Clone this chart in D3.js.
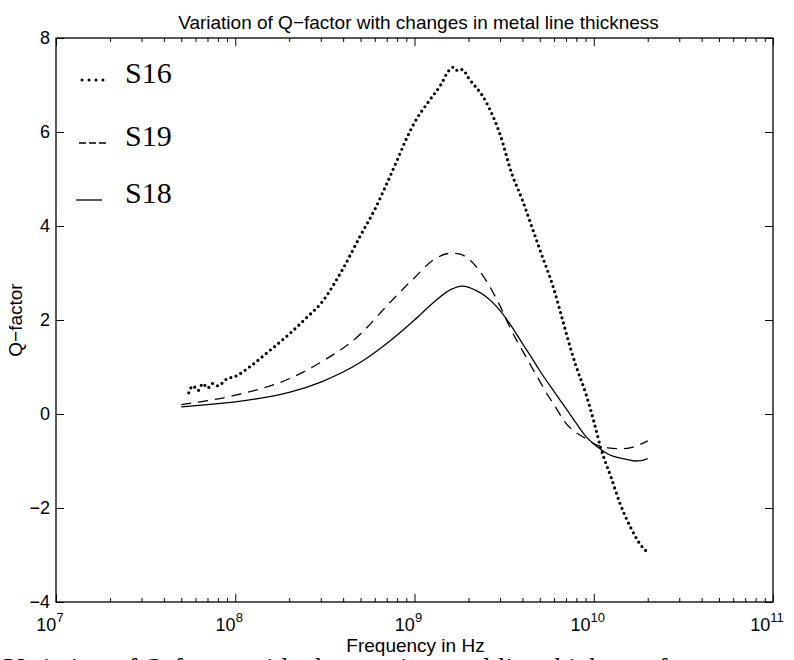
<!DOCTYPE html>
<html>
<head>
<meta charset="utf-8">
<script src="https://cdn.jsdelivr.net/npm/d3@7"></script>
<style>
  body { margin: 0; background: #fff; }
  text { fill: #000; }
</style>
</head>
<body>
<div id="chart"></div>
<script>
// S16 (dotted) - measured, noisy at low frequency
const freqS16 = [5.5e7, 5.8e7, 6.2e7, 6.6e7, 7e7, 7.5e7, 8e7, 9e7, 1e8, 1.2e8, 1.5e8, 2e8, 2.5e8, 3e8, 4e8, 5e8, 6e8, 7e8, 8e8, 9e8, 1e9, 1.2e9, 1.4e9, 1.55e9, 1.65e9, 1.75e9, 1.85e9, 2e9, 2.5e9, 3e9, 3.5e9, 4e9, 4.5e9, 5e9, 6e9, 6.7e9, 7.5e9, 8e9, 9e9, 1e10, 1.1e10, 1.25e10, 1.4e10, 1.6e10, 1.8e10, 2e10];
const qS16 = [0.45, 0.6, 0.5, 0.65, 0.55, 0.65, 0.6, 0.75, 0.8, 1.0, 1.3, 1.7, 2.05, 2.35, 3.1, 3.8, 4.35, 4.9, 5.4, 5.85, 6.2, 6.65, 7.0, 7.3, 7.38, 7.3, 7.33, 7.15, 6.65, 5.95, 5.1, 4.55, 4.0, 3.5, 2.65, 2.0, 1.34, 1.0, 0.45, -0.15, -0.75, -1.35, -1.9, -2.4, -2.75, -2.95];

// S19 (dashed)
const freqS19 = [5e7, 1e8, 2e8, 3e8, 5e8, 7e8, 1e9, 1.3e9, 1.6e9, 1.8e9, 2e9, 2.5e9, 3e9, 3.5e9, 4e9, 4.5e9, 5e9, 5.5e9, 6e9, 7e9, 8e9, 9e9, 1e10, 1.2e10, 1.4e10, 1.7e10, 2e10];
const qS19 = [0.2, 0.4, 0.75, 1.1, 1.7, 2.3, 2.9, 3.3, 3.42, 3.4, 3.3, 2.85, 2.3, 1.75, 1.35, 1.0, 0.7, 0.42, 0.2, -0.2, -0.4, -0.52, -0.63, -0.72, -0.74, -0.69, -0.57];

// S18 (solid)
const freqS18 = [5e7, 7e7, 1e8, 1.5e8, 2e8, 3e8, 5e8, 7e8, 1e9, 1.3e9, 1.6e9, 1.85e9, 2.2e9, 2.5e9, 3e9, 3.5e9, 4e9, 4.5e9, 5e9, 6e9, 7e9, 8e9, 9e9, 1.05e10, 1.2e10, 1.5e10, 1.7e10, 1.85e10, 2e10];
const qS18 = [0.15, 0.2, 0.26, 0.36, 0.46, 0.68, 1.1, 1.5, 2.0, 2.4, 2.65, 2.72, 2.63, 2.5, 2.2, 1.85, 1.5, 1.2, 0.92, 0.48, 0.12, -0.2, -0.47, -0.7, -0.85, -0.96, -1.0, -0.99, -0.95];

const xDecades = [1e7, 1e8, 1e9, 1e10, 1e11];
const yTicks = [-4, -2, 0, 2, 4, 6, 8];
const legendNames = ["S16", "S19", "S18"];

const width = 794, height = 660;
const margin = {top: 38, right: 21, bottom: 58, left: 56};

const svg = d3.select("#chart").append("svg")
    .attr("width", width)
    .attr("height", height);

const x = d3.scaleLog().domain([1e7, 1e11]).range([margin.left, width - margin.right]);
const y = d3.scaleLinear().domain([-4, 8]).range([height - margin.bottom, margin.top]);

const minor = [];
xDecades.slice(0, -1).forEach(d => { for (let k = 2; k <= 9; k++) minor.push(d * k); });

// frame
svg.append("rect")
    .attr("x", x.range()[0]).attr("y", y.range()[1])
    .attr("width", x.range()[1] - x.range()[0])
    .attr("height", y.range()[0] - y.range()[1])
    .attr("fill", "none").attr("stroke", "#000").attr("stroke-width", 1.3);

function tickAxis(axis, t) {
    svg.append("g").attr("transform", t).call(axis)
        .call(g => g.select(".domain").remove())
        .call(g => g.selectAll("line").attr("stroke-width", 1));
}
const bottomY = `translate(0,${y(-4)})`, topY = `translate(0,${y(8)})`;
tickAxis(d3.axisBottom(x).tickValues(xDecades).tickSize(-8).tickFormat(""), bottomY);
tickAxis(d3.axisBottom(x).tickValues(minor).tickSize(-4).tickFormat(""), bottomY);
tickAxis(d3.axisTop(x).tickValues(xDecades).tickSize(-8).tickFormat(""), topY);
tickAxis(d3.axisTop(x).tickValues(minor).tickSize(-4).tickFormat(""), topY);
tickAxis(d3.axisLeft(y).tickValues(yTicks).tickSize(-8).tickFormat(""), `translate(${x(1e7)},0)`);
tickAxis(d3.axisRight(y).tickValues(yTicks).tickSize(-8).tickFormat(""), `translate(${x(1e11)},0)`);

// tick labels
const sans = "'Liberation Sans', Arial, sans-serif";
const xl = svg.append("g").attr("font-family", sans).attr("font-size", 18);
xDecades.forEach(d => {
    const t = xl.append("text")
        .attr("x", x(d) - 6).attr("y", y(-4) + 29)
        .attr("text-anchor", "middle");
    t.append("tspan").text("10");
    t.append("tspan").attr("dy", -9).attr("font-size", 13).text(Math.round(Math.log10(d)));
});
svg.append("g").attr("font-family", sans).attr("font-size", 18)
    .selectAll("text").data(yTicks).join("text")
    .attr("x", x(1e7) - 6).attr("y", d => y(d)).attr("dy", "0.35em")
    .attr("text-anchor", "end")
    .text(d => d < 0 ? "\u2212" + Math.abs(d) : d);

// titles
svg.append("text").attr("x", (x.range()[0] + x.range()[1]) / 2 + 4).attr("y", y(8) - 9)
    .attr("text-anchor", "middle").attr("font-family", sans).attr("font-size", 19)
    .text("Variation of Q\u2212factor with changes in metal line thickness");
svg.append("text").attr("x", (x.range()[0] + x.range()[1]) / 2 + 1).attr("y", y(-4) + 50)
    .attr("text-anchor", "middle").attr("font-family", sans).attr("font-size", 19)
    .text("Frequency in Hz");
svg.append("text").attr("transform", `translate(22,${y(2)}) rotate(-90)`)
    .attr("text-anchor", "middle").attr("font-family", sans).attr("font-size", 19)
    .text("Q\u2212factor");

// curves
const line = d3.line().x(d => x(d[0])).y(d => y(d[1])).curve(d3.curveMonotoneX);
const zipS = (f, q) => f.map((v, i) => [v, q[i]]);

svg.append("path").datum(zipS(freqS18, qS18)).attr("d", line)
    .attr("fill", "none").attr("stroke", "#000").attr("stroke-width", 1.3);
svg.append("path").datum(zipS(freqS19, qS19)).attr("d", line)
    .attr("fill", "none").attr("stroke", "#000").attr("stroke-width", 1.3)
    .attr("stroke-dasharray", "10,7");
svg.append("path").datum(zipS(freqS16, qS16)).attr("d", line)
    .attr("fill", "none").attr("stroke", "#000").attr("stroke-width", 3.2)
    .attr("stroke-linecap", "round").attr("stroke-dasharray", "0,5.4");

// legend
const serif = "'Liberation Serif', 'Times New Roman', serif";
const legendY = [72, 135, 192];
const legendStyles = [
    {w: 3, dash: "0,7", cap: "round", x0: 82, x1: 106},
    {w: 1.3, dash: "7,3", cap: "butt", x0: 79, x1: 108},
    {w: 1.3, dash: null, cap: "butt", x0: 76, x1: 102}
];
legendNames.forEach((n, i) => {
    const s = legendStyles[i];
    svg.append("line").attr("x1", s.x0).attr("x2", s.x1)
        .attr("y1", legendY[i] + 8).attr("y2", legendY[i] + 8)
        .attr("stroke", "#000").attr("stroke-width", s.w)
        .attr("stroke-linecap", s.cap).attr("stroke-dasharray", s.dash);
    svg.append("text").attr("x", 125).attr("y", legendY[i] + 11)
        .attr("font-family", serif).attr("font-size", 30).text(n);
});

// caption from the page, cut by the bottom edge
svg.append("text").attr("x", 4).attr("y", 677)
    .attr("font-family", serif).attr("font-size", 28)
    .text("Variation of Q-factor with changes in metal line thickness for");
</script>
</body>
</html>
